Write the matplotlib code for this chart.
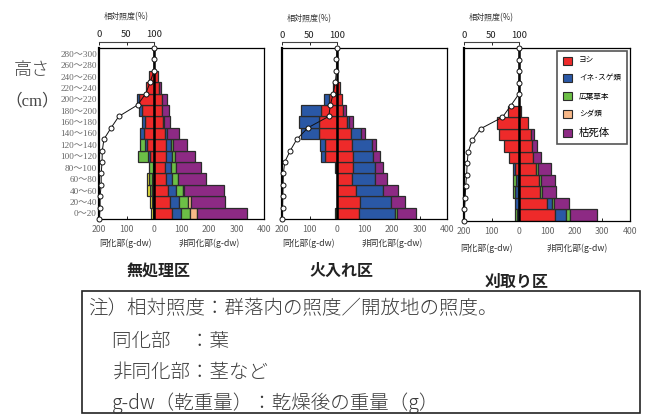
import numpy as np
import matplotlib.pyplot as plt
from matplotlib.patches import Patch, Rectangle

plt.rcParams['font.family'] = ['Noto Sans CJK JP', 'DejaVu Sans']

W, H = 648, 416

# ---------------------------------------------------------------------------
# data (bins listed bottom -> top, 0-20 ... 280-300 cm)
# ---------------------------------------------------------------------------
height_labels = ["0～20", "20～40", "40～60", "60～80", "80～100",
                 "100～120", "120～140", "140～160", "160～180", "180～200",
                 "200～220", "220～240", "240～260", "260～280", "280～300"]
bin_centers = np.arange(10, 300, 20)
light_heights = np.arange(0, 301, 20)

panel_titles = ["無処理区", "火入れ区", "刈取り区"]
legend_labels = ["ヨシ", "イネ･スゲ類", "広葉草本", "シダ類", "枯死体"]

# 無処理区
p1_leaf_yoshi = [3, 4, 7, 6, 4, 16, 24, 35, 34, 42, 53, 30, 19, 0, 0]
p1_leaf_ine   = [0, 0, 0, 0, 0, 7, 10, 15, 11, 11, 10, 0, 0, 0, 0]
p1_leaf_broad = [1, 3, 6, 11, 15, 34, 16, 0, 0, 0, 0, 0, 0, 0, 0]
p1_leaf_fern  = [8, 9, 11, 8, 0, 0, 0, 0, 0, 0, 0, 0, 0, 0, 0]
p1_stem_yoshi = [66, 57, 50, 42, 40, 43, 43, 40, 33, 29, 29, 18, 15, 0, 0]
p1_stem_ine   = [32, 35, 30, 25, 22, 21, 20, 8, 2, 0, 0, 0, 0, 0, 0]
p1_stem_broad = [34, 32, 25, 21, 17, 11, 5, 0, 0, 0, 0, 0, 0, 0, 0]
p1_stem_fern  = [25, 9, 3, 0, 0, 0, 0, 0, 0, 0, 0, 0, 0, 0, 0]
p1_stem_dead  = [180, 124, 147, 100, 91, 74, 53, 42, 22, 25, 18, 8, 0, 0, 0]
p1_light      = [0.5, 2, 2, 4, 4, 5.5, 6, 9, 22, 36, 70, 85, 93, 100, 100, 100]

# 火入れ区
p2_leaf_yoshi = [0, 0, 0, 0, 2, 42, 42, 66, 66, 58, 29, 14, 0, 0, 0]
p2_leaf_ine   = [0, 0, 0, 0, 7, 16, 19, 64, 73, 73, 17, 0, 0, 0, 0]
p2_leaf_broad = [8, 0, 0, 0, 0, 0, 0, 0, 0, 0, 0, 0, 0, 0, 0]
p2_leaf_fern  = [0, 0, 0, 0, 0, 0, 0, 0, 0, 0, 0, 0, 0, 0, 0]
p2_stem_yoshi = [80, 83, 70, 56, 59, 59, 54, 52, 35, 22, 17, 11, 0, 0, 0]
p2_stem_ine   = [132, 112, 97, 81, 78, 73, 75, 36, 8, 0, 0, 0, 0, 0, 0]
p2_stem_broad = [6, 0, 0, 0, 0, 0, 0, 0, 0, 0, 0, 0, 0, 0, 0]
p2_stem_fern  = [0, 0, 0, 0, 0, 0, 0, 0, 0, 0, 0, 0, 0, 0, 0]
p2_stem_dead  = [70, 54, 56, 45, 31, 26, 13, 12, 15, 10, 0, 0, 0, 0, 0]
p2_light      = [0, 1, 1.5, 2, 2.5, 5, 15, 27, 47, 85, 88, 93, 97, 99, 99, 100]

# 刈取り区
p3_leaf_yoshi = [0, 2, 5, 6, 16, 37, 56, 74, 82, 42, 0, 0, 0, 0, 0]
p3_leaf_ine   = [7, 15, 10, 6, 6, 0, 0, 0, 0, 0, 0, 0, 0, 0, 0]
p3_leaf_broad = [8, 0, 9, 11, 0, 0, 0, 0, 0, 0, 0, 0, 0, 0, 0]
p3_leaf_fern  = [0, 0, 0, 0, 0, 0, 0, 0, 0, 0, 0, 0, 0, 0, 0]
p3_stem_yoshi = [128, 99, 75, 71, 60, 48, 47, 43, 30, 7, 0, 0, 0, 0, 0]
p3_stem_ine   = [41, 19, 0, 0, 0, 0, 0, 0, 0, 0, 0, 0, 0, 0, 0]
p3_stem_broad = [15, 8, 8, 9, 7, 0, 0, 0, 0, 0, 0, 0, 0, 0, 0]
p3_stem_fern  = [0, 0, 0, 0, 0, 0, 0, 0, 0, 0, 0, 0, 0, 0, 0]
p3_stem_dead  = [96, 52, 48, 50, 46, 32, 18, 9, 0, 0, 0, 0, 0, 0, 0]
p3_light      = [0, 0.8, 2.2, 3, 4.7, 5.8, 7.5, 14.7, 30, 69.5, 84.5, 99, 99.5, 100, 100, 100]

note_lines = ["注）相対照度：群落内の照度／開放地の照度。",
              "同化部　：葉",
              "非同化部：茎など",
              "g-dw（乾重量）：乾燥後の重量（g）"]

LEAF_COLORS = ['#ee2a2a', '#2a58a6', '#6cbf46', '#e8e43c']
STEM_COLORS = ['#ee2a2a', '#2a58a6', '#6cbf46', '#f8b888', '#8d2a84']
EDGE = '#2b2b2b'


def draw_panel(ax, leaf_parts, stem_parts, light):
    # leaves to the left, stems to the right, each stacked from zero
    base = np.zeros(len(bin_centers))
    for vals, c in zip(leaf_parts, LEAF_COLORS):
        v = np.asarray(vals, float)
        m = v > 0
        ax.barh(bin_centers[m], -v[m], left=-base[m], height=20,
                color=c, edgecolor=EDGE, linewidth=0.9, zorder=2)
        base += v
    base = np.zeros(len(bin_centers))
    for vals, c in zip(stem_parts, STEM_COLORS):
        v = np.asarray(vals, float)
        m = v > 0
        ax.barh(bin_centers[m], v[m], left=base[m], height=20,
                color=c, edgecolor=EDGE, linewidth=0.9, zorder=2)
        base += v

    ax.axvline(0, color='k', lw=1.8, zorder=3)
    # relative light: 0 % at -200, 100 % at 0
    ax.plot(-200 + 2 * np.asarray(light), light_heights, '-o', color='#111',
            lw=0.7, ms=3.6, mfc='white', mec='#111', mew=0.7,
            zorder=5, clip_on=False)

    ax.set_xlim(-200, 400)
    ax.set_ylim(0, 300)
    ax.set_xticks([-200, -100, 0, 100, 200, 300, 400])
    ax.set_xticklabels(['200', '100', '0', '100', '200', '300', '400'])
    ax.tick_params(axis='x', direction='in', length=2.5, width=0.6,
                   labelsize=6.3, labelcolor='#666', pad=4)
    ax.set_yticks(bin_centers)
    ax.tick_params(axis='y', length=0)
    ax.set_yticklabels([])
    for s in ax.spines.values():
        s.set_linewidth(0.9)
    ax.spines['left'].set_linewidth(1.6)


def add_light_axis(fig, left_px, line_px, top_label_px):
    lax = fig.add_axes([left_px / W, 1 - line_px / H, 55 / W, 0.0001])
    lax.patch.set_visible(False)
    for s in ['left', 'right', 'bottom']:
        lax.spines[s].set_visible(False)
    lax.spines['top'].set_linewidth(0.8)
    lax.spines['top'].set_color('#444')
    lax.set_xlim(0, 100)
    lax.set_yticks([])
    lax.xaxis.tick_top()
    lax.set_xticks([0, 50, 100])
    lax.tick_params(axis='x', direction='in', length=2.5, width=0.6,
                    labelsize=6.8, labelcolor='#222', pad=2)
    fig.text((left_px + 27) / W, 1 - top_label_px / H, '相対照度(%)',
             fontsize=5.8, color='#333', ha='center', va='center')


fig = plt.figure(figsize=(W / 100, H / 100), dpi=100)

boxes = [(99, 48, 264, 219), (282, 48, 447, 219), (464, 48, 630, 221)]
panels = [
    ([p1_leaf_yoshi, p1_leaf_ine, p1_leaf_broad, p1_leaf_fern],
     [p1_stem_yoshi, p1_stem_ine, p1_stem_broad, p1_stem_fern, p1_stem_dead], p1_light),
    ([p2_leaf_yoshi, p2_leaf_ine, p2_leaf_broad, p2_leaf_fern],
     [p2_stem_yoshi, p2_stem_ine, p2_stem_broad, p2_stem_fern, p2_stem_dead], p2_light),
    ([p3_leaf_yoshi, p3_leaf_ine, p3_leaf_broad, p3_leaf_fern],
     [p3_stem_yoshi, p3_stem_ine, p3_stem_broad, p3_stem_fern, p3_stem_dead], p3_light),
]
title_pos = [(159, 272), (341, 271), (517, 282)]
sublabel_y = [243, 243, 248]
sublabel_x = [(-105, 200), (-105, 200), (-120, 209)]
light_axis_y = [(42, 31, 17), (42.5, 33, 19), (42.5, 32, 18)]

axes = []
for i, ((l, t, r, b), (leaf, stem, light)) in enumerate(zip(boxes, panels)):
    ax = fig.add_axes([l / W, 1 - b / H, (r - l) / W, (b - t) / H])
    draw_panel(ax, leaf, stem, light)
    axes.append(ax)

    line_y, tick_y, lab_y = light_axis_y[i]
    add_light_axis(fig, l, line_y, lab_y)

    ylab = (b - sublabel_y[i]) / (b - t)
    ax.text(sublabel_x[i][0], ylab, '同化部(g-dw)', transform=ax.get_xaxis_transform(),
            fontsize=6.3, color='#333', ha='center', va='center')
    ax.text(sublabel_x[i][1], ylab, '非同化部(g-dw)', transform=ax.get_xaxis_transform(),
            fontsize=6.3, color='#333', ha='center', va='center')

    tx, ty = title_pos[i]
    fig.text(tx / W, 1 - ty / H, panel_titles[i], fontsize=11.5,
             fontweight='bold', color='#222', ha='center', va='center')

# height labels on the first panel only
axes[0].set_yticklabels(height_labels, fontsize=6.6, color='#666',
                        family=['Liberation Serif', 'Noto Sans CJK JP'])
axes[0].tick_params(axis='y', pad=1.5)

fig.text(32 / W, 1 - 70 / H, '高さ', fontsize=13, color='#444',
         ha='center', va='center', fontweight='light')
fig.text(32 / W, 1 - 101 / H, '（cm）', fontsize=12, color='#444',
         ha='center', va='center', family=['Liberation Serif', 'Noto Sans CJK JP'])

# legend inside the third panel
handles = [Patch(facecolor=c, edgecolor=EDGE, linewidth=0.8) for c in STEM_COLORS]
leg = axes[2].legend(handles, legend_labels, loc='upper right', fontsize=5.5,
                     frameon=True, fancybox=False, framealpha=1,
                     edgecolor='#555', borderpad=0.8, labelspacing=1.2,
                     handlelength=1.2, handleheight=1.2, handletextpad=0.9,
                     borderaxespad=0.35)
leg.get_frame().set_linewidth(1.2)
leg.get_texts()[-1].set_fontsize(7.5)
leg.set_zorder(6)

# note box
fig.patches.append(Rectangle((82 / W, 1 - 413 / H), 558 / W, 122 / H,
                             transform=fig.transFigure, fill=False,
                             edgecolor='#222', linewidth=1.2))
note_x = [88, 112, 112, 112]
note_y = [309, 341, 372, 403]
for txt, nx, ny in zip(note_lines, note_x, note_y):
    fig.text(nx / W, 1 - ny / H, txt, fontsize=14, color='#3a3a3a',
             ha='left', va='center', fontweight='light',
             family=['Noto Sans CJK JP', 'DejaVu Sans'])

fig.savefig('out.png', dpi=100)
